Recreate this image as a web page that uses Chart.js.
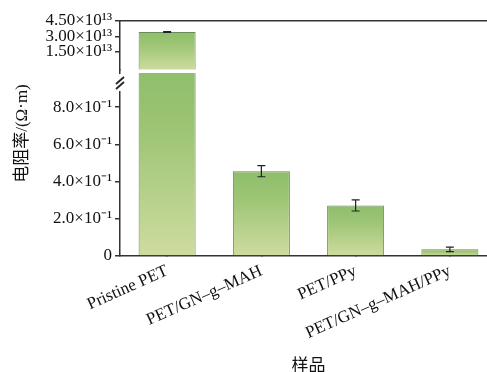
<!DOCTYPE html>
<html>
<head>
<meta charset="utf-8">
<script src="https://cdn.jsdelivr.net/npm/chart.js@4"></script>
<style>
  html, body { margin: 0; padding: 0; background: #fff; overflow: hidden; }
  #wrap { width: 500px; height: 372px; position: relative; }
</style>
</head>
<body>
<div id="wrap"><canvas id="chart"></canvas></div>
<script>
// datos
const categories = ['Pristine PET', 'PET/GN–g–MAH', 'PET/PPy', 'PET/GN–g–MAH/PPy'];
const resistivity = [3.43e13, 0.456, 0.272, 0.036];
const errors = [0.04e13, 0.03, 0.03, 0.012];

const upperTicks = [1.5e13, 3.0e13, 4.5e13];
const upperTickLabels = ['1.50×10¹³', '3.00×10¹³', '4.50×10¹³'];
const lowerTicks = [0, 0.2, 0.4, 0.6, 0.8];
const lowerTickLabels = ['0', '2.0×10⁻¹', '4.0×10⁻¹', '6.0×10⁻¹', '8.0×10⁻¹'];

const yTitle = '电阻率/(Ω·m)';
const xTitle = '样品';

const upperMin = -0.25e13, upperMax = 4.5e13;
const lowerMin = 0, lowerMax = 1.0;

const serif = '"Liberation Serif", "Times New Roman", serif';
const axisColor = '#333';

function barGradient(c) {
  if (c.type !== 'data' || c.raw == null) return '#9cc475';
  const scale = c.chart.scales[c.dataset.yAxisID];
  const hi = Array.isArray(c.raw) ? c.raw[1] : c.raw;
  const lo = Array.isArray(c.raw) ? c.raw[0] : 0;
  const y1 = scale.getPixelForValue(hi);
  const y2 = scale.getPixelForValue(Math.max(lo, scale.min));
  if (!isFinite(y1) || !isFinite(y2) || y1 === y2) return '#9cc475';
  const g = c.chart.ctx.createLinearGradient(0, y1, 0, y2);
  g.addColorStop(0, '#8fbe6c');
  g.addColorStop(0.3, '#9bc473');
  g.addColorStop(1, '#cedc9f');
  return g;
}

// barras de error usando las escalas
const errorBars = {
  id: 'errorBars',
  afterDatasetsDraw(chart) {
    const {ctx, scales} = chart;
    ctx.save();
    ctx.strokeStyle = '#222';
    ctx.lineWidth = 1.2;
    resistivity.forEach((v, i) => {
      const s = v > lowerMax ? scales.yUp : scales.yLow;
      const x = scales.x.getPixelForValue(i);
      const yA = s.getPixelForValue(v + errors[i]);
      const yB = s.getPixelForValue(v - errors[i]);
      ctx.beginPath();
      ctx.moveTo(x, yA); ctx.lineTo(x, yB);
      ctx.moveTo(x - 4, yA); ctx.lineTo(x + 4, yA);
      ctx.moveTo(x - 4, yB); ctx.lineTo(x + 4, yB);
      ctx.stroke();
    });
    ctx.restore();
  }
};

// corte del eje
const axisBreak = {
  id: 'axisBreak',
  afterDatasetsDraw(chart) {
    const {ctx, chartArea, scales} = chart;
    const b = scales.yLow.top;
    const l = chartArea.left;
    ctx.save();
    ctx.fillStyle = '#fff';
    ctx.fillRect(l + 1, b - 0.5, chartArea.right - l, 3.5);
    ctx.fillRect(l - 4, b + 4, 8, 17);
    ctx.strokeStyle = '#222';
    ctx.lineWidth = 1.8;
    ctx.beginPath();
    ctx.moveTo(l - 4, b + 14); ctx.lineTo(l + 4, b + 7);
    ctx.moveTo(l - 4, b + 19); ctx.lineTo(l + 4, b + 12);
    ctx.stroke();
    ctx.restore();
  }
};

const yTitlePlugin = {
  id: 'yTitle',
  afterDraw(chart) {
    const {ctx, chartArea} = chart;
    ctx.save();
    ctx.translate(23, (chartArea.top + chartArea.bottom) / 2 - 5);
    ctx.rotate(-Math.PI / 2);
    ctx.font = '17px ' + serif + ', "Noto Sans CJK SC"';
    ctx.fillStyle = '#111';
    ctx.textAlign = 'center';
    ctx.textBaseline = 'middle';
    ctx.fillText(yTitle, 0, 0);
    ctx.restore();
  }
};

const barStyle = {
  backgroundColor: barGradient,
  borderColor: '#6b8a5a',
  borderWidth: 1,
  borderSkipped: 'start',
  grouped: false,
  barPercentage: 0.605,
  categoryPercentage: 1.0
};

const yCommon = {
  position: 'left',
  stack: 'v',
  border: { color: axisColor, width: 1.5 },
  grid: { drawOnChartArea: false, drawTicks: true, tickLength: 5, color: axisColor, lineWidth: 1.5 },
  afterFit: s => { s.width = 120; }
};

new Chart(document.getElementById('chart'), {
  type: 'bar',
  data: {
    labels: categories,
    datasets: [
      Object.assign({
        label: 'upper',
        yAxisID: 'yUp',
        data: resistivity.map(v => v > lowerMax ? [upperMin, v] : null)
      }, barStyle),
      Object.assign({
        label: 'lower',
        yAxisID: 'yLow',
        data: resistivity.map(v => Math.min(v, lowerMax))
      }, barStyle)
    ]
  },
  options: {
    responsive: true,
    maintainAspectRatio: false,
    animation: false,
    layout: { padding: { top: 21, right: 3, left: 0, bottom: 0 } },
    plugins: { legend: { display: false }, tooltip: { enabled: false } },
    scales: {
      x: {
        position: 'bottom',
        offset: true,
        border: { color: axisColor, width: 1.5 },
        grid: { offset: false, drawOnChartArea: false, drawTicks: true, tickLength: -6, color: axisColor, lineWidth: 1.5 },
        ticks: { color: '#111', font: { family: serif, size: 17 }, minRotation: 24, maxRotation: 24, padding: 11, autoSkip: false },
        title: { display: true, text: xTitle, color: '#111', font: { family: serif + ', "Noto Sans CJK SC"', size: 17 }, padding: { top: 0, bottom: -5 } },
        afterFit: s => { s.height = 116; }
      },
      xTop: {
        type: 'category',
        position: 'top',
        offset: true,
        border: { color: axisColor, width: 1.5 },
        grid: { display: false, drawTicks: false },
        ticks: { display: false },
        afterFit: s => { s.height = 0; }
      },
      yLow: Object.assign({}, yCommon, {
        stackWeight: 186,
        min: lowerMin,
        max: lowerMax,
        afterBuildTicks: s => { s.ticks = lowerTicks.map(v => ({ value: v })); },
        ticks: {
          autoSkip: false, padding: 3, color: '#111',
          font: { family: serif, size: 17 },
          callback: (v) => lowerTickLabels[lowerTicks.indexOf(v)]
        }
      }),
      yUp: Object.assign({}, yCommon, {
        stackWeight: 49,
        min: upperMin,
        max: upperMax,
        afterBuildTicks: s => { s.ticks = upperTicks.map(v => ({ value: v })); },
        ticks: {
          autoSkip: false, padding: 3, color: '#111',
          font: { family: serif, size: 17 },
          callback: (v) => upperTickLabels[upperTicks.indexOf(v)]
        }
      })
    }
  },
  plugins: [axisBreak, errorBars, yTitlePlugin]
});
</script>
</body>
</html>
